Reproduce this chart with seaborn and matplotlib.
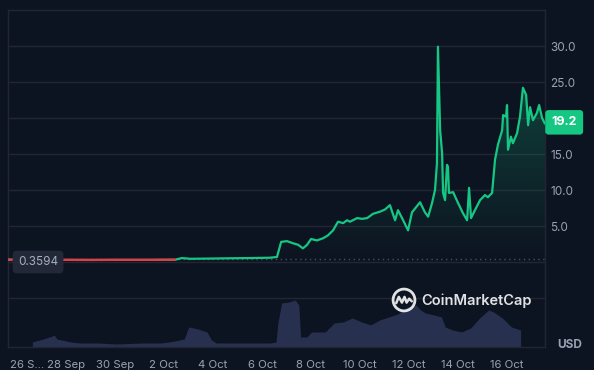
import numpy as np
import pandas as pd
import matplotlib
matplotlib.use("Agg")
import matplotlib.pyplot as plt
import matplotlib.dates as mdates
from matplotlib.transforms import ScaledTranslation, blended_transform_factory
from matplotlib.path import Path
from matplotlib.patches import Circle
from matplotlib.colors import to_rgb
import seaborn as sns

# ---------------- data ----------------
start_date = "2024-09-26"
price_days = [-0.37, 0.53, 1.76, 2.98, 4.20, 5.43, 6.45, 6.73, 7.06, 7.88, 8.69, 9.51,
              10.33, 10.61, 10.78, 11.02, 11.27, 11.47, 11.67, 11.84, 12.00, 12.24,
              12.49, 12.69, 12.90, 13.10, 13.31, 13.47, 13.59, 13.88, 14.08, 14.29,
              14.53, 14.82, 15.02, 15.22, 15.43, 15.55, 15.76, 15.96, 16.12, 16.45,
              16.65, 16.78, 16.94, 17.06, 17.14, 17.18, 17.27, 17.35, 17.39, 17.47,
              17.55, 17.59, 17.63, 17.80, 18.00, 18.20, 18.37, 18.45, 18.53, 18.69,
              18.90, 19.10, 19.22, 19.39, 19.51, 19.63, 19.80, 19.84, 19.96, 20.00,
              20.04, 20.16, 20.24, 20.41, 20.53, 20.65, 20.78, 20.86, 20.94, 21.06,
              21.22, 21.31, 21.43, 21.55]
price_values = [0.33, 0.31, 0.30, 0.29, 0.30, 0.30, 0.32, 0.55, 0.45, 0.48, 0.52, 0.55,
                0.60, 0.70, 2.8, 2.9, 2.6, 2.4, 1.9, 2.4, 3.2, 3.0,
                3.3, 3.7, 4.4, 5.6, 5.4, 5.8, 5.6, 6.1, 6.0, 6.1,
                6.7, 7.0, 7.3, 7.9, 5.8, 7.2, 5.8, 4.4, 6.9, 8.3,
                6.9, 6.3, 8.2, 10.0, 13.7, 29.9, 18.3, 15.1, 9.6, 8.6,
                13.5, 13.2, 9.6, 9.7, 8.2, 6.8, 5.8, 10.3, 6.1, 7.2,
                8.6, 9.3, 9.0, 9.6, 14.2, 16.3, 18.3, 20.4, 20.2, 21.8,
                15.6, 17.4, 16.5, 17.9, 20.2, 24.2, 23.2, 19.0, 21.5, 19.7,
                20.7, 21.8, 20.0, 19.2]
volume_days = [-0.37, 0.12, 0.53, 0.61, 0.73, 0.94, 1.35, 1.76, 2.57, 3.39, 4.61, 5.43,
               6.04, 6.45, 6.65, 7.06, 7.47, 7.67, 7.88, 9.51, 10.33, 10.57, 10.65,
               10.82, 11.14, 11.43, 11.59, 11.67, 11.96, 12.16, 12.78, 13.18, 13.59,
               14.00, 14.41, 14.82, 15.22, 15.63, 16.04, 16.45, 16.86, 17.06, 17.27,
               17.67, 18.00, 18.16, 18.49, 18.90, 19.31, 19.71, 20.12, 20.33, 20.73,
               21.14, 21.55]
volume_values = [5, 8, 11, 12, 8, 7, 5, 4, 4, 3, 4, 4,
                 6, 8, 20, 18, 15, 7, 4, 4, 4, 5, 24,
                 44, 45, 47, 42, 10, 10, 15, 15, 24, 25,
                 29, 25, 22, 27, 30, 33, 40, 42, 37, 34,
                 32, 30, 20, 17, 15, 19, 29, 37, 35, 29,
                 20, 17]
baseline_price = 0.3594
last_price = 19.2
tick_days = [0, 2, 4, 6, 8, 10, 12, 14, 16, 18, 20]
x_tick_labels = ["26 S...", "28 Sep", "30 Sep", "2 Oct", "4 Oct", "6 Oct",
                 "8 Oct", "10 Oct", "12 Oct", "14 Oct", "16 Oct"]
y_ticks = [-5, 0, 5, 10, 15, 20, 25, 30]
y_tick_labels = ["", "", "5.0", "10.0", "15.0", "", "25.0", "30.0"]

# ---------------- style ----------------
BG = "#0d1421"
GRID = "#222633"
GREEN = "#16c784"
RED = "#ea3943"
TXT = "#9aa1b3"
VOL = "#283050"

sns.set_theme(style="dark")
plt.rcParams["font.family"] = ["Inter", "DejaVu Sans"]

start = pd.Timestamp(start_date)
price_df = pd.DataFrame({
    "date": start + pd.to_timedelta(price_days, unit="D"),
    "price": price_values,
})
vol_df = pd.DataFrame({
    "date": start + pd.to_timedelta(volume_days, unit="D"),
    "volume": volume_values,
})

W, H = 594, 370
fig = plt.figure(figsize=(W / 100, H / 100), dpi=100, facecolor=BG)
rect = [8 / W, 23 / H, 537 / W, 337 / H]

# volume panel (behind)
vax = fig.add_axes(rect, zorder=0)
vax.set_facecolor(BG)
vax.fill_between(mdates.date2num(vol_df["date"]), vol_df["volume"], 0,
                 color=VOL, linewidth=0)
vax.set_ylim(0, max(volume_values) * 337 / 47)
vax.axis("off")

# price panel (front)
ax = fig.add_axes(rect, zorder=1)
ax.set_facecolor("none")

xnum = mdates.date2num(price_df["date"])
pr = np.array(price_values)
poly = ax.fill_between(xnum, pr, baseline_price, where=pr >= baseline_price,
                       interpolate=True, facecolor="none", edgecolor="none")
grad = np.zeros((256, 1, 4))
grad[..., :3] = to_rgb(GREEN)
grad[..., 3] = np.linspace(0.0, 0.30, 256)[:, None]
xmin = mdates.date2num(start + pd.Timedelta(days=-0.37))
xmax = mdates.date2num(start + pd.Timedelta(days=21.55))
im = ax.imshow(grad, extent=[xmin, xmax, baseline_price, 30], origin="lower",
               aspect="auto", zorder=1, interpolation="bilinear")
clip = Path.make_compound_path(*poly.get_paths())
im.set_clip_path(clip, transform=ax.transData)

ax.axhline(baseline_price, color="#4a5060", lw=1.0, ls=(0, (1, 2.5)), zorder=2)

sns.lineplot(data=price_df, x="date", y="price", ax=ax, color=GREEN, lw=1.6,
             zorder=3, legend=False)
red_df = price_df[price_df["price"] < baseline_price]
sns.lineplot(data=red_df, x="date", y="price", ax=ax, color=RED, lw=1.6,
             zorder=4, legend=False)

ax.set_xlim(xmin, xmax)
ax.set_ylim(-11.8, 35)

ax.yaxis.tick_right()
ax.set_yticks(y_ticks)
ax.set_yticklabels(y_tick_labels)
ax.set_xticks([mdates.date2num(start + pd.Timedelta(days=d)) for d in tick_days])
ax.set_xticklabels(x_tick_labels)
ax.tick_params(axis="y", length=0, pad=4, labelsize=8.5, labelcolor=TXT)
ax.tick_params(axis="x", length=0, pad=9, labelsize=8.2, labelcolor=TXT)
ax.set_xlabel("")
ax.set_ylabel("")
ax.grid(axis="y", color=GRID, lw=1)
ax.grid(axis="x", visible=False)
for s in ax.spines.values():
    s.set_visible(True)
    s.set_color(GRID)
    s.set_linewidth(1)

first = ax.get_xticklabels()[0]
first.set_ha("left")
first.set_transform(first.get_transform() + ScaledTranslation(-0.075, 0, fig.dpi_scale_trans))

# last price tag
bt = blended_transform_factory(ax.transAxes, ax.transData)
ax.text(1.0, last_price + 0.2, f"{last_price}", transform=bt + ScaledTranslation(0.065, 0, fig.dpi_scale_trans),
        ha="left", va="center", color="white", fontsize=9, fontweight="bold", zorder=10,
        bbox=dict(boxstyle="round,pad=0.5,rounding_size=0.25", fc=GREEN, ec="none"),
        clip_on=False)

# baseline tag
ax.text(0.0, 0.0, f"{baseline_price}", transform=bt + ScaledTranslation(0.1, 0, fig.dpi_scale_trans),
        ha="left", va="center", color="#a6aec0", fontsize=8.5, zorder=10,
        bbox=dict(boxstyle="round,pad=0.45,rounding_size=0.35", fc="#222838", ec="none"))

# currency label
fig.text(570 / W, 1 - 345 / H, "USD", ha="center", va="center", color=TXT,
         fontsize=8.5, fontweight="bold")

# watermark
lax = fig.add_axes([391 / W, (H - 313) / H, 26 / W, 26 / H], zorder=5)
lax.set_xlim(0, 1)
lax.set_ylim(0, 1)
lax.set_aspect("equal")
lax.axis("off")
wm = (1, 1, 1, 0.88)
lax.add_patch(Circle((0.5, 0.5), 0.42, fill=False, ec=wm, lw=2.0))
lax.plot([0.2, 0.3, 0.42, 0.52, 0.6, 0.7, 0.8], [0.38, 0.62, 0.40, 0.62, 0.40, 0.55, 0.45],
         color=wm, lw=1.8, solid_capstyle="round", solid_joinstyle="round")
fig.text(421 / W, 1 - 301 / H, "CoinMarketCap", ha="left", va="center",
         color=wm, fontsize=10.5, fontweight="semibold", zorder=5)

fig.savefig("out.png", dpi=100, facecolor=BG)
